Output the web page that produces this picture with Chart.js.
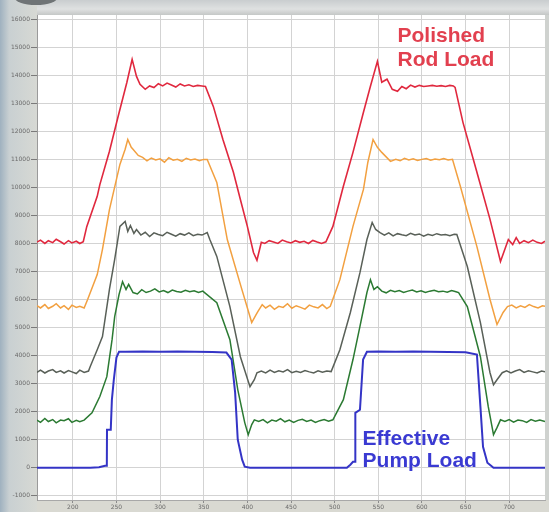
<!DOCTYPE html>
<html>
<head>
<meta charset="utf-8">
<style>
  html, body { margin: 0; padding: 0; background: #d8dad6; }
  canvas { display: block; }
</style>
<script src="https://cdn.jsdelivr.net/npm/chart.js@4/dist/chart.umd.min.js"></script>
</head>
<body>
<canvas id="dyno" width="549" height="512"></canvas>
<script>
// Ticks
const xTicks = [200, 250, 300, 350, 400, 450, 500, 550, 600, 650, 700];
const yTicks = [-1000, 0, 1000, 2000, 3000, 4000, 5000, 6000, 7000, 8000, 9000,
  10000, 11000, 12000, 13000, 14000, 15000, 16000];

// Polished rod load (red)
const redX = [159, 163, 168, 172, 177, 181, 186, 190, 195, 199, 204, 208, 212,
  216, 228, 231, 242, 252, 262, 268, 273, 277, 283,
  288, 293, 298, 303, 308, 313, 318, 323, 328, 333, 338, 343, 348, 352,
  361, 372, 384, 392, 400, 407, 411, 416,
  420, 425, 430, 435, 440, 445, 450, 455, 460, 465, 470, 475, 480, 485, 490,
  498, 510, 521, 533, 541, 549, 554, 560, 566, 572,
  577, 582, 587, 592, 597, 602, 607, 612, 617, 622, 627, 632, 636,
  638, 647, 663, 678, 690, 699, 704, 708,
  712, 717, 722, 727, 732, 737, 741];
const redY = [8050, 8120, 8000, 8100, 8030, 8150, 8060, 7980, 8100, 8020, 8080, 8000, 8060,
  8600, 9680, 10100, 11290, 12540, 13750, 14570, 13960, 13680, 13500,
  13620, 13560, 13700, 13620, 13720, 13650, 13580, 13690, 13620, 13660, 13600, 13640, 13620, 13600,
  12890, 11710, 10540, 9570, 8610, 7680, 7400, 8040,
  8000, 8100, 8050, 8000, 8120, 8060, 8020, 8100, 8040, 8080, 8000, 8110, 8050, 8000, 8060,
  8610, 10040, 11250, 12680, 13610, 14500, 13750, 13860, 13500, 13430,
  13600, 13520, 13650, 13580, 13640, 13600, 13620, 13640, 13610, 13630, 13600, 13640, 13620,
  13570, 12320, 10540, 8860, 7360, 8140, 7960, 8210,
  8000, 8100, 8030, 8120, 8040, 8000, 8080];

// Orange trace
const orangeX = [159, 163, 168, 172, 177, 181, 186, 190, 195, 199, 204, 208, 213,
  217, 228, 234, 242, 254, 260, 263, 267, 269, 275, 280,
  285, 290, 295, 300, 305, 310, 315, 320, 325, 330, 335, 340, 345, 350,
  354, 365, 377, 392, 405, 410, 412, 417,
  421, 426, 431, 436, 441, 446, 451, 456, 461, 466, 471, 476, 481, 486, 491, 495,
  506, 521, 533, 538, 544, 549, 554, 564,
  570, 575, 580, 585, 590, 595, 600, 605, 610, 615, 620, 625, 630,
  635, 644, 663, 678, 686, 693, 698,
  703, 708, 713, 718, 723, 728, 733, 738, 741];
const orangeY = [5780, 5700, 5820, 5680, 5760, 5850, 5700, 5780, 5650, 5800, 5720, 5760, 5700,
  6000, 6890, 7790, 9210, 10820, 11360, 11710, 11430, 11360, 11140, 11070,
  10950, 11050, 10980, 11020, 10900, 11060, 10970, 11000, 10930, 11040, 10980, 11010, 10950, 11000,
  11000, 10180, 8140, 6540, 5180, 5460, 5570, 5820,
  5700, 5800, 5650, 5760, 5720, 5850, 5690, 5780, 5720, 5660, 5800, 5740, 5700, 5820, 5680, 5760,
  6710, 8610, 9930, 10890, 11710, 11430, 11250, 10930,
  11000, 10950, 11040, 10980, 11020, 10960, 11000, 11030, 10970, 11010, 10990, 11030, 10980,
  11000, 10040, 7890, 6000, 5110, 5540, 5750,
  5800, 5700, 5780, 5720, 5820, 5750, 5700, 5780, 5760];

// Gray trace
const grayX = [159, 163, 168, 172, 177, 181, 186, 190, 195, 199, 204, 208, 213, 218,
  220, 228, 234, 242, 248, 254, 260, 263, 266, 270, 273,
  278, 283, 288, 293, 298, 303, 308, 313, 318, 323, 328, 333, 338, 343, 348,
  354, 357, 365, 380, 392, 403, 408, 411,
  416, 421, 426, 431, 436, 441, 446, 451, 456, 461, 466, 471, 476, 481, 486, 491, 496,
  506, 518, 529, 537, 543, 547, 552,
  557, 562, 567, 572, 577, 582, 587, 592, 597, 602, 607, 612, 617, 622, 627, 632, 637,
  640, 652, 667, 678, 682, 686, 692,
  697, 702, 707, 712, 717, 722, 727, 732, 737, 741];
const grayY = [3400, 3480, 3380, 3450, 3500, 3400, 3460, 3380, 3470, 3420, 3360, 3480, 3400, 3450,
  3610, 4210, 4680, 6360, 7430, 8610, 8790, 8430, 8640, 8360, 8500,
  8300, 8400, 8250, 8380, 8320, 8280, 8400, 8330, 8260, 8350, 8300, 8380, 8280, 8330, 8300,
  8390, 8140, 7540, 5750, 3960, 2890, 3140, 3390,
  3450, 3380, 3480, 3400, 3460, 3420, 3500, 3390, 3440, 3400, 3470, 3420, 3380, 3460, 3410, 3450, 3430,
  4210, 5540, 6960, 8140, 8750, 8500, 8390,
  8300, 8380, 8270, 8350, 8310, 8280, 8360, 8300, 8340, 8260, 8330, 8290, 8350, 8300, 8320, 8280, 8330,
  8320, 7180, 5180, 3390, 2960, 3140, 3390,
  3460, 3380, 3450, 3500, 3400, 3460, 3420, 3380, 3450, 3420];

// Green trace
const greenX = [159, 163, 168, 172, 177, 181, 186, 190, 195, 199, 204, 208, 213,
  222, 231, 239, 245, 248, 253, 257, 261, 264, 269,
  274, 279, 284, 289, 294, 299, 304, 309, 314, 319, 324, 329, 334, 339, 344, 349,
  351, 365, 380, 389, 397, 401, 405, 408,
  413, 418, 423, 428, 433, 438, 443, 448, 453, 458, 463, 468, 473, 478, 483, 488, 493,
  498, 510, 521, 529, 537, 541, 545, 549,
  554, 559, 564, 569, 574, 579, 584, 589, 594, 599, 604, 609, 614, 619, 624, 629, 634, 639,
  642, 652, 667, 676, 682, 686, 690,
  695, 700, 705, 710, 715, 720, 725, 730, 735, 741];
const greenY = [1700, 1620, 1760, 1650, 1720, 1600, 1700, 1680, 1750, 1620, 1690, 1640, 1700,
  1960, 2540, 3250, 4570, 5390, 6180, 6640, 6360, 6540, 6250,
  6200, 6350, 6250, 6300, 6380, 6270, 6320, 6250, 6340, 6290, 6260, 6330, 6280, 6310, 6250, 6300,
  6250, 5890, 4570, 2790, 1610, 1180, 1540, 1710,
  1650, 1720, 1600, 1700, 1660, 1750, 1640, 1700, 1620, 1690, 1730, 1650, 1700, 1620, 1680, 1720, 1660,
  1710, 2430, 3860, 5040, 6250, 6710, 6360, 6460,
  6300, 6240, 6330, 6280, 6320, 6250, 6300, 6340, 6270, 6310, 6250, 6300, 6330, 6280, 6300, 6260, 6320, 6280,
  6250, 5750, 3960, 2180, 1180, 1430, 1710,
  1650, 1720, 1630, 1700, 1680, 1620, 1720, 1660, 1700, 1650];

// Effective pump load (blue)
const blueX = [159, 200, 220, 230, 237, 239, 239.2, 243.5, 244.8, 247, 250, 253,
  260, 280, 300, 320, 340, 360, 376,
  382, 386, 389, 394, 397, 403,
  430, 460, 490, 514, 518, 521, 523.5, 523.7, 529, 532.6, 537,
  550, 570, 590, 610, 630, 650,
  663, 667, 670, 675, 682, 700, 741];
const blueY = [0, 0, 0, 20, 70, 70, 1360, 1360, 2430, 3140, 3930, 4140,
  4140, 4150, 4140, 4150, 4140, 4130, 4110,
  3860, 2680, 1000, 290, 40, 0,
  0, 0, 0, 0, 110, 210, 210, 1960, 2070, 3860, 4140,
  4150, 4140, 4150, 4140, 4130, 4120,
  4040, 2180, 750, 180, 0, 0, 0];

// Text labels on the plot
const redNote = ['Polished', 'Rod Load'];
const blueNote = ['Effective', 'Pump Load'];

function toPoints(xs, ys) {
  return xs.map((x, i) => ({ x: x, y: ys[i] }));
}

function trace(data, color, width) {
  return {
    data: data,
    borderColor: color,
    borderWidth: width,
    pointRadius: 0,
    tension: 0,
    fill: false
  };
}

// Fondo del marco
const framePlugin = {
  id: 'frame',
  beforeDraw(chart) {
    const { ctx, chartArea: a, width, height } = chart;
    ctx.save();
    const side = ctx.createLinearGradient(0, 0, a.left, 0);
    side.addColorStop(0, '#9fb1bf');
    side.addColorStop(0.25, '#c9d0d2');
    side.addColorStop(1, '#d7d9d4');
    ctx.fillStyle = side;
    ctx.fillRect(0, 0, a.left, height);

    const top = ctx.createLinearGradient(0, 0, 0, a.top);
    top.addColorStop(0, '#c9cdcf');
    top.addColorStop(0.6, '#dfe1e1');
    top.addColorStop(1, '#c4c7c6');
    ctx.fillStyle = top;
    ctx.fillRect(a.left, 0, width - a.left, a.top);

    ctx.fillStyle = '#6f7476';
    ctx.beginPath();
    ctx.ellipse(36, -3, 22, 8, 0, 0, Math.PI * 2);
    ctx.fill();

    ctx.fillStyle = '#d9d9d2';
    ctx.fillRect(a.left, a.bottom, width - a.left, height - a.bottom);
    ctx.fillStyle = '#cfd2cf';
    ctx.fillRect(a.right, a.top, width - a.right, a.bottom - a.top);

    ctx.fillStyle = '#ffffff';
    ctx.fillRect(a.left, a.top, a.right - a.left, a.bottom - a.top);
    ctx.restore();
  }
};

// Rótulos de las curvas
const notesPlugin = {
  id: 'notes',
  afterDatasetsDraw(chart) {
    const { ctx, scales } = chart;
    ctx.save();
    ctx.font = 'bold 21px "Liberation Sans", Arial, sans-serif';
    ctx.textAlign = 'left';
    ctx.textBaseline = 'alphabetic';
    ctx.fillStyle = '#e2404f';
    redNote.forEach((t, i) => {
      ctx.fillText(t, scales.x.getPixelForValue(572), scales.y.getPixelForValue(15180 - i * 840));
    });
    ctx.fillStyle = '#3a3ad2';
    blueNote.forEach((t, i) => {
      ctx.fillText(t, scales.x.getPixelForValue(532), scales.y.getPixelForValue(820 - i * 800));
    });
    ctx.restore();
  }
};

const tickFont = { family: '"DejaVu Sans", sans-serif', size: 6 };

new Chart(document.getElementById('dyno'), {
  type: 'line',
  data: {
    datasets: [
      trace(toPoints(blueX, blueY), '#3434c6', 2),
      trace(toPoints(greenX, greenY), '#2b7a32', 1.5),
      trace(toPoints(grayX, grayY), '#596058', 1.5),
      trace(toPoints(orangeX, orangeY), '#f2a040', 1.5),
      trace(toPoints(redX, redY), '#e0283e', 1.6)
    ]
  },
  options: {
    responsive: false,
    animation: false,
    devicePixelRatio: 1,
    layout: { padding: { top: 15, right: 4, left: 0, bottom: 0 } },
    plugins: { legend: { display: false }, tooltip: { enabled: false } },
    scales: {
      x: {
        type: 'linear',
        min: 159,
        max: 741,
        afterBuildTicks: s => { s.ticks = xTicks.map(v => ({ value: v })); },
        afterFit: s => { s.height = 12; },
        grid: { color: '#d3d3d3', tickColor: '#8a8a8a', tickLength: 3, lineWidth: 1 },
        border: { color: '#a8a8a8' },
        ticks: { font: tickFont, color: '#6a6a6a', padding: 1, maxRotation: 0, autoSkip: false,
          callback: v => String(v) }
      },
      y: {
        type: 'linear',
        min: -1150,
        max: 16150,
        afterBuildTicks: s => { s.ticks = yTicks.map(v => ({ value: v })); },
        afterFit: s => { s.width = 37; },
        grid: { color: '#d3d3d3', tickColor: '#7a7a7a', tickLength: 6, lineWidth: 1 },
        border: { color: '#9a9a9a' },
        ticks: { font: tickFont, color: '#6a6a6a', padding: 1, autoSkip: false,
          callback: v => String(v) }
      }
    }
  },
  plugins: [framePlugin, notesPlugin]
});
</script>
</body>
</html>
